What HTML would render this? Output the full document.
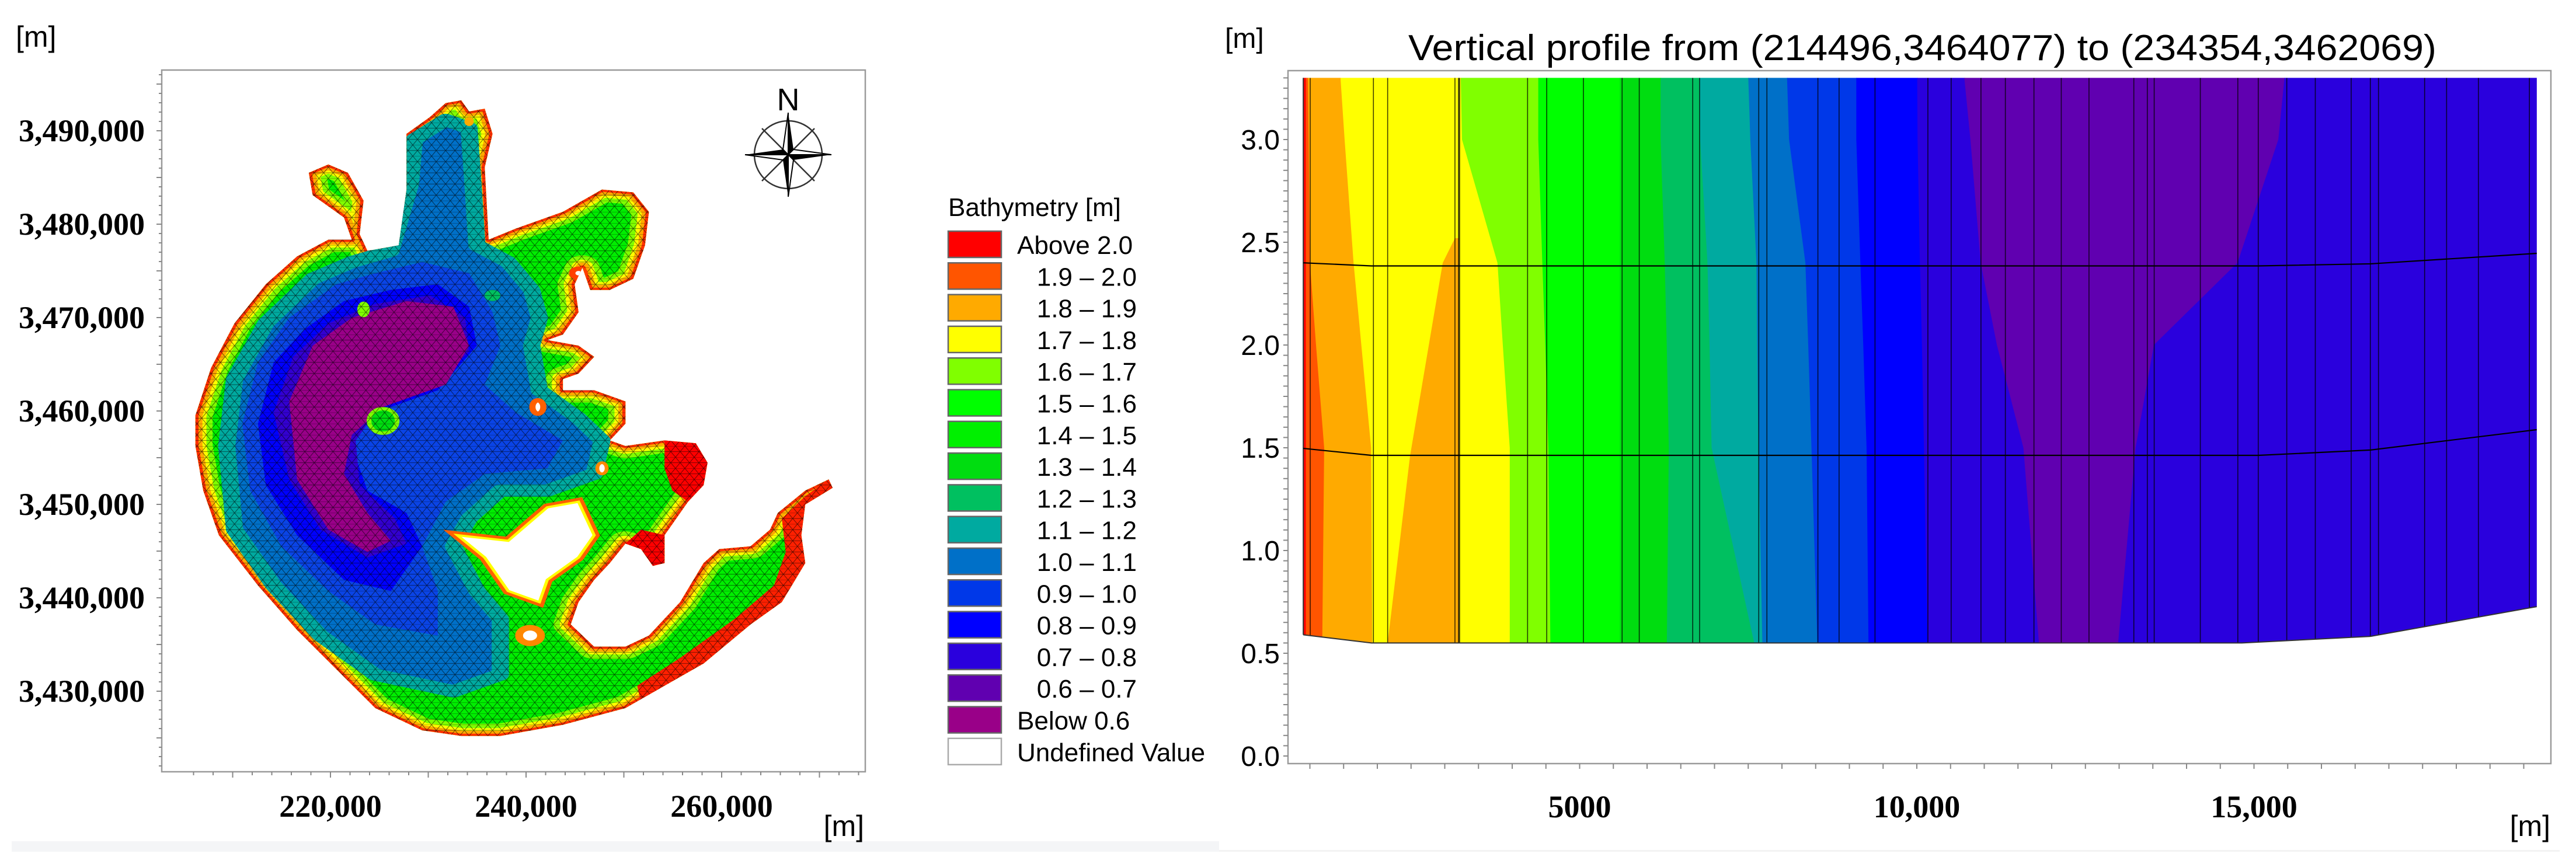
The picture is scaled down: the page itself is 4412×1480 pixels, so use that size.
<!DOCTYPE html>
<html><head><meta charset="utf-8"><title>Bathymetry map and vertical profile</title>
<style>
html,body{margin:0;padding:0;background:#fff;}
svg{display:block;}
.sans{font-family:"Liberation Sans",Arial,sans-serif;}
.serifb{font-family:"Liberation Serif","Times New Roman",serif;font-weight:bold;}
</style></head>
<body>
<svg id="root" xmlns="http://www.w3.org/2000/svg" width="4412" height="1480" viewBox="0 0 4412 1480">
<defs>
  <clipPath id="lakeClip"><path id="lakeClipPath" transform="matrix(1.339 0 0 0.955 0 0)" d="M250,745 L270,660 L300,580 L340,510 L380,460 L420,430 L450,430 L440,390 L400,350 L395,310 L420,295 L445,310 L465,360 L460,420 L470,450 L510,440 L520,340 L520,240 L550,210 L570,185 L590,180 L600,200 L620,195 L630,240 L620,300 L625,430 L660,410 L720,380 L770,340 L810,345 L830,380 L825,440 L810,500 L780,520 L755,520 L745,480 L735,510 L740,560 L720,600 L700,610 L740,620 L760,640 L740,670 L720,680 L720,700 L760,700 L800,720 L800,760 L780,790 L800,800 L850,790 L890,795 L905,830 L900,870 L880,900 L850,960 L850,1010 L835,1015 L820,985 L800,975 L780,1010 L760,1040 L740,1080 L730,1120 L760,1160 L800,1160 L830,1140 L870,1080 L900,1010 L920,985 L960,980 L985,950 L995,920 L1030,880 L1060,860 L1065,875 L1030,905 L1025,960 L1030,1010 L1000,1080 L960,1120 L900,1190 L850,1230 L800,1270 L720,1300 L640,1320 L590,1320 L540,1310 L480,1270 L430,1200 L380,1130 L330,1050 L280,960 L260,880 L250,800 Z"/></clipPath>
  <pattern id="mesh" patternUnits="userSpaceOnUse" width="12" height="20">
    <path d="M0,0 L12,0 M0,10 L12,10 M0,0 L6,10 L12,0 M0,20 L6,10 L12,20" stroke="#000" stroke-width="0.7" stroke-opacity="0.7" fill="none"/>
  </pattern>
  <clipPath id="profClip"><polygon id="profClipPoly" points="0,0"/></clipPath>
</defs>

<rect x="20" y="1441" width="2068" height="18" fill="#f4f5f7"/>
<rect x="2088" y="1456" width="2296" height="3" fill="#f3f3f3"/>

<g id="leftMap">
  <text x="27" y="80" class="sans" font-size="50">[m]</text>
  <rect x="277" y="120" width="1205" height="1202" fill="#fff" stroke="#9a9a9a" stroke-width="2.5"/>
  <g id="mapTicks"></g>

  <g clip-path="url(#lakeClip)">
    <g transform="matrix(1.339 0 0 0.955 0 0)">
      <rect x="200" y="150" width="900" height="1200" fill="#00ee00"/>
      <g id="shoreBands"></g>
      <path d="M290,800 L300,680 L340,580 L400,500 L450,470 L500,450 L525,330 L530,250 L570,215 L600,230 L605,330 L610,440 L650,470 L680,520 L690,570 L680,620 L690,700 L740,750 L770,790 L760,850 L700,880 L640,880 L600,930 L580,980 L610,1060 L640,1110 L640,1210 L580,1240 L480,1210 L410,1140 L350,1050 L300,950 Z" fill="#0070c8" stroke="#00aaa0" stroke-width="22" stroke-linejoin="round"/>
      <path d="M310,760 L330,650 L370,570 L430,510 L480,490 L540,470 L600,490 L630,560 L640,620 L620,690 L660,740 L720,790 L700,840 L620,850 L570,900 L540,980 L560,1060 L560,1140 L480,1120 L420,1060 L360,980 L320,880 Z" fill="#0a44e6"/>
      <path d="M330,760 L350,650 L390,590 L440,540 L500,520 L560,510 L600,550 L610,620 L560,700 L480,740 L450,800 L470,880 L520,920 L540,980 L500,1060 L440,1040 L380,960 L340,870 Z" fill="#0000ff"/>
      <path d="M350,740 L375,640 L420,580 L480,545 L550,530 L595,570 L600,630 L560,690 L485,730 L455,790 L460,870 L505,930 L520,975 L470,1000 L410,950 L370,860 Z" fill="#3300d0"/>
      <path d="M370,720 L400,620 L450,570 L520,540 L580,550 L600,620 L570,690 L490,730 L450,780 L440,850 L470,920 L500,970 L470,990 L420,950 L380,860 Z" fill="#990088"/>
      <ellipse cx="490" cy="755" rx="18" ry="22" fill="#00dd10" stroke="#80ff00" stroke-width="6"/>
      <ellipse cx="465" cy="555" rx="8" ry="14" fill="#80ff00"/>
      <ellipse cx="630" cy="530" rx="10" ry="10" fill="#00c060"/>
      <path d="M850,790 L890,795 L905,830 L900,870 L880,900 L860,880 L850,840 Z" fill="#ff0000"/>
      <path d="M800,975 L820,985 L835,1015 L850,1010 L850,960 L820,950 Z" fill="#ff0000"/>
      <path d="M1060,860 L1065,875 L1030,905 L1025,960 L1030,1010 L1000,1080 L960,1120 L900,1190 L850,1230 L820,1260 L815,1230 L870,1180 L940,1110 L990,1050 L1005,990 L1000,930 L1030,890 Z" fill="#ff2000"/>
      <rect x="200" y="150" width="900" height="1200" fill="url(#mesh)"/>
      <g id="islands">
        <path d="M585,960 L650,970 L700,910 L740,900 L760,960 L740,1000 L700,1040 L690,1080 L650,1060 L620,1000 Z" fill="#fff" stroke="#ff6000" stroke-width="14"/>
        <path d="M585,960 L650,970 L700,910 L740,900 L760,960 L740,1000 L700,1040 L690,1080 L650,1060 L620,1000 Z" fill="#fff" stroke="#ffff00" stroke-width="4"/>
        <ellipse cx="678" cy="1140" rx="14" ry="14" fill="#fff" stroke="#ff8800" stroke-width="10"/>
        <ellipse cx="688" cy="730" rx="7" ry="12" fill="#fff" stroke="#ff6000" stroke-width="8"/>
        <ellipse cx="740" cy="490" rx="8" ry="8" fill="#fff" stroke="#ff4000" stroke-width="8"/>
        <ellipse cx="770" cy="840" rx="6" ry="10" fill="#fff" stroke="#ff8800" stroke-width="5"/>
        <ellipse cx="600" cy="218" rx="6" ry="8" fill="#ffaa00"/>
      </g>
    </g>
  </g>

  <g id="compass" transform="translate(1350,265)">
    <circle r="58" fill="none" stroke="#333" stroke-width="2.5"/>
    <path d="M-45,-45 L45,45 M45,-45 L-45,45" stroke="#333" stroke-width="2.5"/>
    <polygon points="0,-72 9,-9 0,0" fill="#000"/><polygon points="0,-72 -9,-9 0,0" fill="#fff" stroke="#000" stroke-width="2"/>
    <polygon points="0,72 -9,9 0,0" fill="#000"/><polygon points="0,72 9,9 0,0" fill="#fff" stroke="#000" stroke-width="2"/>
    <polygon points="-74,0 -9,-9 0,0" fill="#000"/><polygon points="-74,0 -9,9 0,0" fill="#fff" stroke="#000" stroke-width="2"/>
    <polygon points="74,0 9,9 0,0" fill="#000"/><polygon points="74,0 9,-9 0,0" fill="#fff" stroke="#000" stroke-width="2"/>
    <text x="0" y="-76" text-anchor="middle" class="sans" font-size="54">N</text>
  </g>

  <text x="1480" y="1432" text-anchor="end" class="sans" font-size="50">[m]</text>

  <g id="legend">
    <text x="1624" y="370" class="sans" font-size="44">Bathymetry [m]</text>
  </g>
</g>

<g id="rightProfile">
  <text x="2098" y="82" class="sans" font-size="48">[m]</text>
  <text x="2412" y="103" class="sans" font-size="62" textLength="1761" lengthAdjust="spacingAndGlyphs">Vertical profile from (214496,3464077) to (234354,3462069)</text>
  <rect x="2206" y="121" width="2163" height="1187" fill="#fff" stroke="#9a9a9a" stroke-width="2.5"/>
  <g id="bands" clip-path="url(#profClip)"></g>
  <g id="meshLines" clip-path="url(#profClip)"></g>
  <g id="edgeLines"></g>
  <g id="layerLines"></g>
  <g id="profAxes"></g>
  <text x="4368" y="1432" text-anchor="end" class="sans" font-size="50">[m]</text>
</g>
</svg>

<script>
// ---------- Legend data ----------
const legendLabels = ["Above 2.0","1.9 \u2013 2.0","1.8 \u2013 1.9","1.7 \u2013 1.8","1.6 \u2013 1.7","1.5 \u2013 1.6","1.4 \u2013 1.5","1.3 \u2013 1.4","1.2 \u2013 1.3","1.1 \u2013 1.2","1.0 \u2013 1.1","0.9 \u2013 1.0","0.8 \u2013 0.9","0.7 \u2013 0.8","0.6 \u2013 0.7","Below 0.6","Undefined Value"];
const legendColors = ["#ff0000","#ff5500","#ffaa00","#ffff00","#80ff00","#00ff00","#00f000","#00dd10","#00c060","#00aaa0","#0070c8","#0038e8","#0000ff","#2a00dd","#6000b0","#990088","#ffffff"];

// ---------- Map axis data ----------
const mapXTicks = [220000, 240000, 260000];
const mapXTickLabels = ["220,000","240,000","260,000"];
const mapYTicks = [3490000,3480000,3470000,3460000,3450000,3440000,3430000];
const mapYTickLabels = ["3,490,000","3,480,000","3,470,000","3,460,000","3,450,000","3,440,000","3,430,000"];

// ---------- Profile data ----------
const depthLevels = [3.3, 3.0, 2.4, 2.0, 1.5, 0.5];
const bandColors = ["#ff0000","#ff5500","#ffaa00","#ffff00","#80ff00","#00ff00","#00dd10","#00c060","#00aaa0","#0070c8","#0038e8","#0000ff","#2a00dd","#6000b0","#2a00dd"];
const bLeft   = [902,902,902,902,902,902];
const b1  = [944,944,944,944,944,944];
const b2  = [974,986,1005,1095,1216,1186];
const b3  = [1458,1519,1652,1767,1912,1930];
const b4  = [3242,3260,3786,3865,3968,3968];
const b5  = [4391,4391,4451,4494,4542,4572];
const b6  = [5600,5600,5600,5600,5600,5600];
const b7  = [6205,6205,6266,6296,6326,6296];
const b8  = [6779,6791,6900,6930,6961,7626];
const b9  = [7505,7535,7626,7638,7656,7717];
const b10 = [8080,8110,8352,8394,8442,8533];
const b11 = [9107,9107,9167,9210,9259,9289];
const b12 = [10010,10015,10050,10080,10110,10165];
const b13 = [10709,10799,10951,11192,11585,11827];
const b14 = [15456,15365,14760,13520,13248,12976];
const bRight  = [19193,19193,19193,19193,19193,19193];
const wedgeDist  = [3151,2970,2485,2153,3212,3212];
const wedgeDepth = [2.52,2.4,1.46,0.55,0.55,2.52];
const bottomDist  = [902,1912,14821,16725,19193];
const bottomDepth = [0.59,0.55,0.55,0.582,0.727];
const surfaceDepth = 3.3;
const layerDist   = [902,1912,15063,16725,19193];
const layerUpper  = [2.40,2.385,2.385,2.395,2.446];
const layerLower  = [1.497,1.463,1.463,1.489,1.588];
const meshDist = [1005,1942,2153,3151,3212,4228,4512,5056,5630,5884,6677,6779,7656,7777,8533,8847,9380,10164,10509,10951,11313,11737,12142,12553,13218,13418,13520,14204,14760,15063,15486,15909,16441,16725,16846,17530,17856,18328,19084];
const profXLabels = [5000,10000,15000];
const profXLabelText = ["5000","10,000","15,000"];
const profYLabels = [0.0,0.5,1.0,1.5,2.0,2.5,3.0];
const profYLabelText = ["0.0","0.5","1.0","1.5","2.0","2.5","3.0"];

const NS = "http://www.w3.org/2000/svg";
function mk(tag, attrs, parent){const e=document.createElementNS(NS,tag);for(const k in attrs)e.setAttribute(k,attrs[k]);parent.appendChild(e);return e;}

// ---- map axes ----
function mapX(v){return 566 + (v-220000)*0.01675;}
function mapY(v){return 224 + (3490000-v)*0.016;}
const mt = document.getElementById('mapTicks');
for(let v=206000; v<=276000; v+=2000){
  const x=mapX(v); if(x<280||x>1480) continue;
  const t=mk('line',{x1:x,y1:1322,x2:x,y2:(v%10000===0?1332:1328),stroke:'#888','stroke-width':2},mt);
  
  
}
for(let v=3422000; v<=3498000; v+=1000){
  const y=mapY(v); if(y<122||y>1320) continue;
  const t=mk('line',{x1:277,y1:y,x2:(v%5000===0?268:272),y2:y,stroke:'#888','stroke-width':2},mt);
  
  
}
mapXTicks.forEach((v,i)=>{
  const t=mk('text',{x:mapX(v),y:1399,'text-anchor':'middle','font-size':54,class:'serifb'},mt);
  t.textContent=mapXTickLabels[i];
  
  
});
mapYTicks.forEach((v,i)=>{
  const t=mk('text',{x:248,y:mapY(v)+18,'text-anchor':'end','font-size':54,class:'serifb'},mt);
  t.textContent=mapYTickLabels[i];
  
  
});

const sb=document.getElementById('shoreBands');
const outlineD=document.getElementById('lakeClipPath').getAttribute('d');
[["#80ff00",44],["#ffff00",28],["#ffaa00",18],["#ff3000",8]].forEach(c=>{
  const p=mk('path',{d:outlineD,fill:'none',stroke:c[0],'stroke-width':c[1],'stroke-linejoin':'round'},sb);
  
  
});

// ---- legend ----
const lg=document.getElementById('legend');
legendLabels.forEach((lab,i)=>{
  const y=396+i*54.3;
  const r=mk('rect',{x:1624,y:y,width:91,height:45,fill:legendColors[i],stroke:(i===16?'#aaa':'#666'),'stroke-width':2.5},lg);
  
  
  const ranged = lab.indexOf('\u2013')>=0;
  const t=mk('text',{x:ranged?1947:1742,y:y+39,'text-anchor':ranged?'end':'start','font-size':44,class:'sans'},lg);
  t.textContent=lab;
  
  
});

// ---- profile ----
function xS(v){return 2128 + v*0.1155;}
function yS(d){return 1295 - d*352;}
(function(){
  const pts=[];
  pts.push([xS(bottomDist[0]),yS(surfaceDepth)]);
  pts.push([xS(bottomDist[bottomDist.length-1]),yS(surfaceDepth)]);
  for(let i=bottomDist.length-1;i>=0;i--) pts.push([xS(bottomDist[i]),yS(bottomDepth[i])]);
  document.getElementById('profClipPoly').setAttribute('points',pts.map(p=>p.join(',')).join(' '));
})();
const bounds=[bLeft,b1,b2,b3,b4,b5,b6,b7,b8,b9,b10,b11,b12,b13,b14,bRight];
const bg=document.getElementById('bands');
for(let i=0;i<bandColors.length;i++){
  const L=bounds[i], R=bounds[i+1], pts=[];
  for(let k=0;k<depthLevels.length;k++) pts.push([xS(L[k]),yS(depthLevels[k])]);
  for(let k=depthLevels.length-1;k>=0;k--) pts.push([xS(R[k]),yS(depthLevels[k])]);
  const p=mk('polygon',{points:pts.map(q=>q.join(',')).join(' '),fill:bandColors[i],stroke:bandColors[i],'stroke-width':1},bg);
  
  
}
(function(){
  const pts=wedgeDist.map((d,k)=>[xS(d),yS(wedgeDepth[k])]);
  const p=mk('polygon',{points:pts.map(q=>q.join(',')).join(' '),fill:'#ffaa00'},bg);
  
  
})();
const ml=document.getElementById('meshLines');
meshDist.forEach((d)=>{
  const l=mk('line',{x1:xS(d),y1:yS(surfaceDepth),x2:xS(d),y2:yS(0.5),stroke:'#000','stroke-width':(d===3212?3.5:1.6),'stroke-opacity':0.75},ml);
  
  
});
const eg=document.getElementById('edgeLines');
(function(){
  const pts=[];
  for(let i=0;i<bottomDist.length;i++) pts.push([xS(bottomDist[i]),yS(bottomDepth[i])]);
  const p=mk('polyline',{points:pts.map(q=>q.join(',')).join(' '),fill:'none',stroke:'#333','stroke-width':2},eg);
  
  
  const e=mk('line',{x1:xS(bLeft[0]),y1:yS(surfaceDepth),x2:xS(bLeft[0]),y2:yS(bottomDepth[0]),stroke:'#333','stroke-width':2},eg);
  
  
})();
const ll=document.getElementById('layerLines');
[layerUpper,layerLower].forEach(arr=>{
  const pts=layerDist.map((d,k)=>[xS(d),yS(arr[k])]);
  const p=mk('polyline',{points:pts.map(q=>q.join(',')).join(' '),fill:'none',stroke:'#000','stroke-width':2.2},ll);
  
  
});
const ax=document.getElementById('profAxes');
for(let v=1000; v<=19500; v+=500){
  const x=xS(v); if(x<2208||x>4366) continue;
  const t=mk('line',{x1:x,y1:1308,x2:x,y2:1317,stroke:'#888','stroke-width':2},ax);
  
  
}
for(let k=0;k<=66;k++){
  const y=yS(k*0.05);
  const t=mk('line',{x1:2206,y1:y,x2:2198,y2:y,stroke:'#888','stroke-width':2},ax);
  
  
}
profXLabels.forEach((v,i)=>{
  const t=mk('text',{x:xS(v),y:1400,'text-anchor':'middle','font-size':54,class:'serifb'},ax);
  t.textContent=profXLabelText[i];
  
  
});
profYLabels.forEach((v,i)=>{
  const t=mk('text',{x:2192,y:yS(v)+17,'text-anchor':'end','font-size':48,class:'sans'},ax);
  t.textContent=profYLabelText[i];
  
  
});
</script>
</body></html>
